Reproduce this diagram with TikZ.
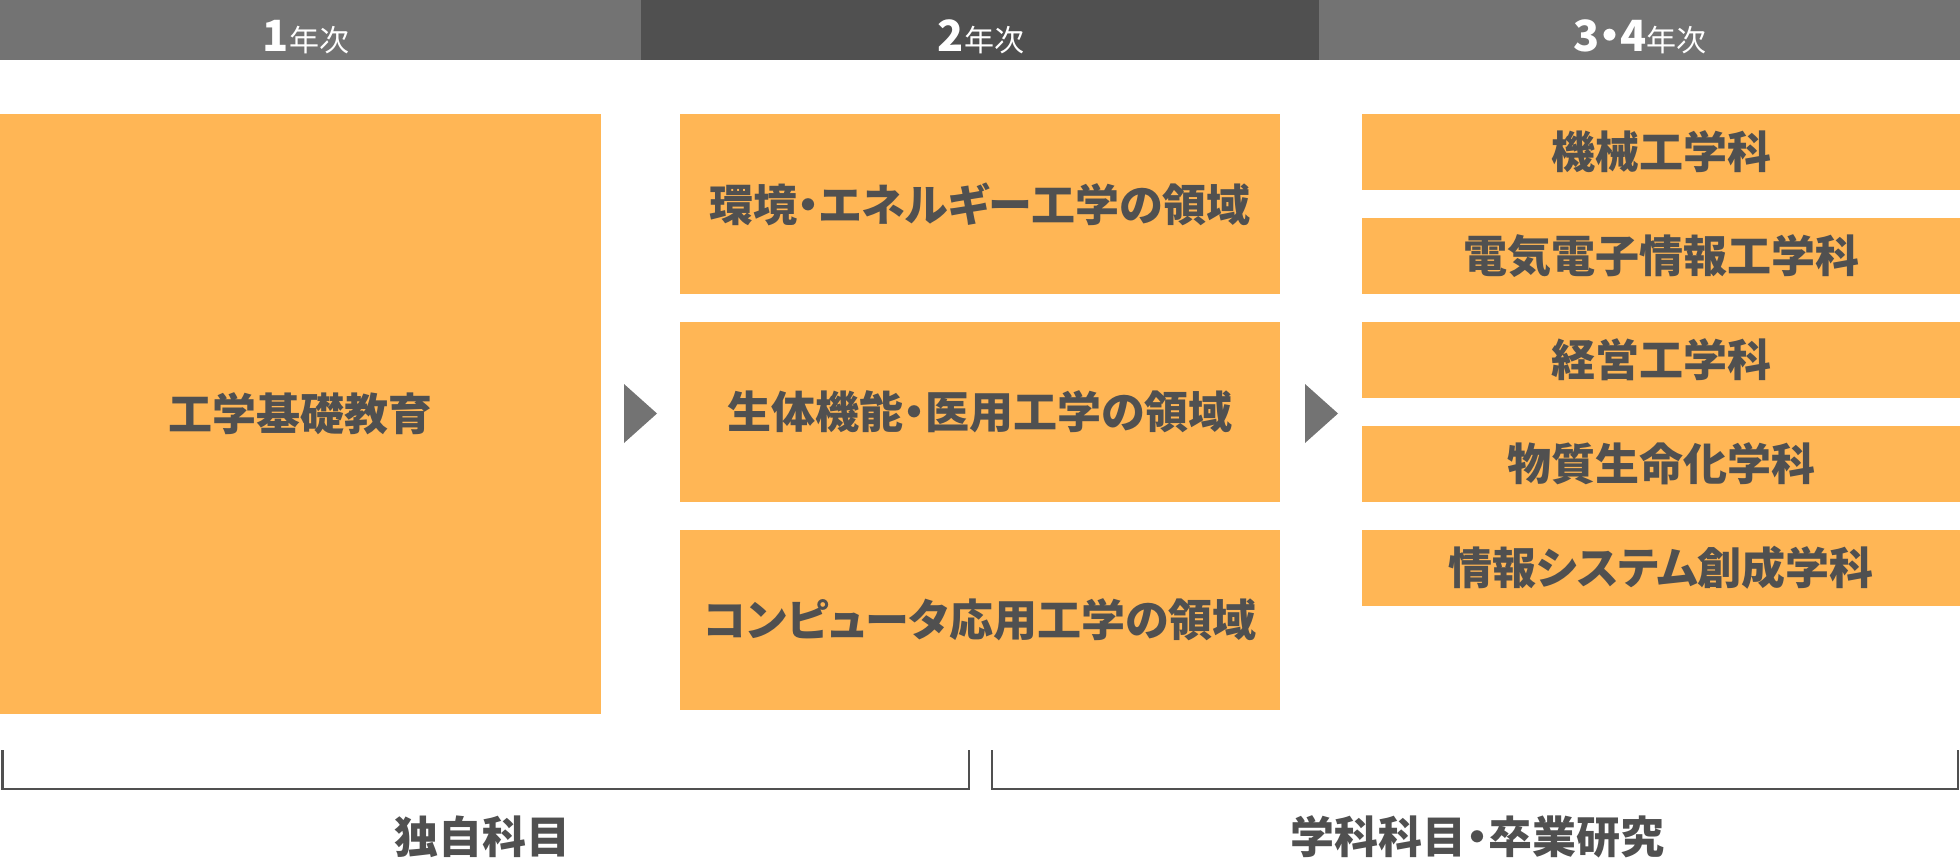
\documentclass[tikz,border=0pt]{standalone}
\usepackage{fontspec}
\newfontfamily\jpfont{Noto Sans CJK JP}[RawFeature=+palt]
\usetikzlibrary{positioning}
\definecolor{barlight}{HTML}{737373}
\definecolor{bardark}{HTML}{505050}
\definecolor{boxfill}{HTML}{FFB655}
\definecolor{ink}{HTML}{505050}
\newcommand{\yr}[1]{{\bfseries\fontsize{43pt}{43pt}\selectfont #1}{\fontsize{30pt}{30pt}\selectfont 年次}}
\tikzstyle{bar}=[rectangle, inner sep=0pt, minimum height=60pt, anchor=north west]
\tikzstyle{year}=[inner sep=0pt, anchor=base, text=white, font=\jpfont]
\tikzstyle{box}=[rectangle, inner sep=0pt, fill=boxfill, text=ink, font=\jpfont\bfseries\fontsize{44pt}{44pt}\selectfont]
\tikzstyle{tip}=[fill=barlight]
\tikzstyle{brace}=[draw=bardark, line width=2.5pt]

\begin{document}
\begin{tikzpicture}[x=1pt, y=-1pt]
\useasboundingbox (0,0) rectangle (1960,859);
%% year bars
\node [bar, fill=barlight, minimum width=641pt] (b1) at (0,0){};
\node [bar, fill=bardark, minimum width=678pt] (b2) at (641,0){};
\node [bar, fill=barlight, minimum width=641pt] (b3) at (1319,0){};
\node [year] (y1) at (306,52){\yr{1}}; \node [year] (y2) at (981,52){\yr{2}}; \node [year] (y3) at (1640,52){\yr{3・4}};
%% boxes
\node [box, minimum width=601pt, minimum height=600pt] (base) at (300.5,414){工学基礎教育};
\tikzstyle{every node}=[box, minimum width=600pt, minimum height=180pt];
\node (m1) at (980,204){環境・エネルギー工学の領域};
\node (m2) at (980,412){生体機能・医用工学の領域};
\node (m3) at (980,620){コンピュータ応用工学の領域};
\tikzstyle{every node}=[box, minimum width=598pt, minimum height=76pt];
\node (d1) at (1661,152){機械工学科}; \node (d2) at (1661,256){電気電子情報工学科};
\node (d3) at (1661,360){経営工学科}; \node (d4) at (1661,464){物質生命化学科};
\node (d5) at (1661,568){情報システム創成学科};
\tikzstyle{every node}=[];
\fill [tip] (624,384) -- (657,413.5) -- (624,443) -- cycle;
\fill [tip] (1305,384) -- (1338,413.5) -- (1305,443) -- cycle;
%% brackets
\coordinate (l1) at (2.5,750); \coordinate (l2) at (969,750);
\coordinate (r1) at (992,750); \coordinate (r2) at (1958,750);
\draw [brace] (l1) -- ++(0,39) -| (l2) (r1) -- ++(0,39) -| (r2);
\node [text=ink, font=\jpfont\bfseries\fontsize{44pt}{44pt}\selectfont, inner sep=0pt] (own) at (482,837){独自科目};
\node [text=ink, font=\jpfont\bfseries\fontsize{44pt}{44pt}\selectfont, inner sep=0pt] (dept) at (1477,837){学科科目・卒業研究};
\end{tikzpicture}
\end{document}
